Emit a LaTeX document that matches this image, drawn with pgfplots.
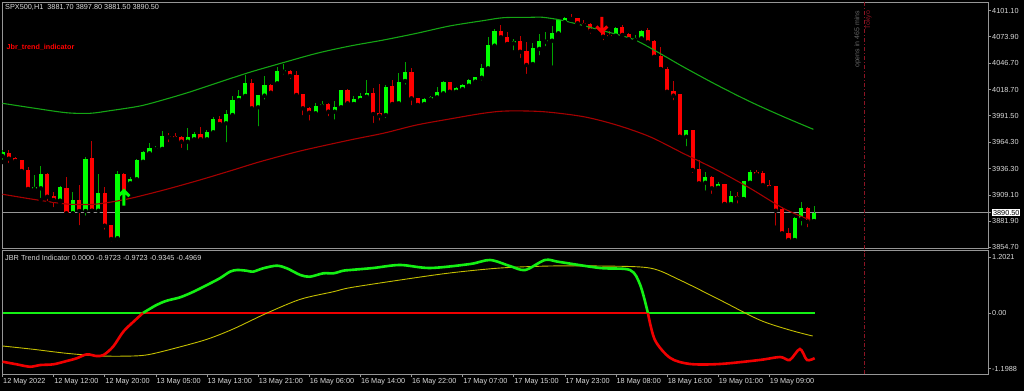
\documentclass[border=0pt]{standalone}
\usepackage{pgfplots}
\pgfplotsset{compat=1.18}
\usepackage{pgfplotstable}
\usepackage{fontspec}
\setmainfont{Liberation Sans}
\definecolor{bodyg}{RGB}{0,255,0}
\definecolor{wickg}{RGB}{0,165,0}
\definecolor{bodyr}{RGB}{255,0,0}
\definecolor{wickr}{RGB}{190,0,0}
\definecolor{bandg}{RGB}{20,165,20}
\definecolor{bandr}{RGB}{165,0,0}
\definecolor{indg}{RGB}{20,240,20}
\definecolor{indr}{RGB}{240,0,0}
\definecolor{sig}{RGB}{195,190,0}
\definecolor{framegray}{RGB}{150,150,150}
\definecolor{txt}{RGB}{220,220,220}
\definecolor{tokyo}{RGB}{140,20,35}
\newcommand\fs{\fontsize{7.3}{8.5}\selectfont}
\pgfdeclareplotmark{uparr}{%
 \pgfpathmoveto{\pgfqpoint{-5.5pt}{-5.5pt}}%
 \pgfpathlineto{\pgfqpoint{0pt}{0pt}}%
 \pgfpathlineto{\pgfqpoint{5.5pt}{-5.5pt}}%
 \pgfpathmoveto{\pgfqpoint{0pt}{-1pt}}%
 \pgfpathlineto{\pgfqpoint{0pt}{-15pt}}%
 \pgfusepathqstroke}
\pgfdeclareplotmark{dnarr}{%
 \pgfpathmoveto{\pgfqpoint{-5.5pt}{5.5pt}}%
 \pgfpathlineto{\pgfqpoint{0pt}{0pt}}%
 \pgfpathlineto{\pgfqpoint{5.5pt}{5.5pt}}%
 \pgfpathmoveto{\pgfqpoint{0pt}{1pt}}%
 \pgfpathlineto{\pgfqpoint{0pt}{15pt}}%
 \pgfusepathqstroke}

\pgfplotstableread{
i o h l c
0 3949.6 3955.8 3943.3 3953.8
5 3915.2 3929.8 3913.4 3917.0
6 3915.9 3939.2 3903.7 3930.8
9 3903.0 3918.6 3901.3 3917.0
11 3889.8 3911.7 3889.5 3903.7
13 3892.2 3948.9 3885.2 3946.5
15 3892.5 3930.8 3888.1 3910.7
18 3863.8 3933.6 3859.6 3930.8
20 3921.1 3928.0 3917.0 3925.6
21 3925.3 3946.5 3924.6 3945.4
22 3943.6 3955.1 3940.9 3953.4
23 3952.4 3962.8 3949.6 3957.6
24 3956.6 3960.0 3955.1 3958.2
25 3957.0 3975.7 3955.8 3970.4
29 3964.5 3978.5 3953.4 3969.1
30 3967.0 3974.3 3965.5 3972.5
32 3967.0 3976.7 3965.5 3974.9
33 3974.3 3990.6 3970.4 3988.2
35 3983.7 3997.6 3961.8 3993.4
36 3992.3 4012.2 3990.2 4008.0
37 4008.0 4018.4 4003.8 4012.2
38 4012.2 4034.1 4010.1 4025.7
40 4000.4 4013.2 3978.5 4013.2
41 4012.5 4033.0 4006.2 4023.6
43 4025.4 4042.7 4021.9 4038.2
44 4037.5 4045.2 4032.3 4039.3
49 3994.1 4004.5 3993.1 4002.0
50 4001.7 4007.3 3999.3 4003.5
52 3995.8 4007.3 3985.4 4000.4
53 4000.4 4018.4 3999.3 4018.4
55 4003.8 4012.2 4003.5 4009.0
56 4008.0 4014.9 4006.2 4012.5
57 4011.4 4028.8 4008.0 4014.9
60 3992.3 4023.6 3987.1 4021.2
62 4004.5 4035.8 4000.4 4027.1
63 4027.8 4047.3 4021.9 4036.9
66 4003.8 4009.7 4002.8 4009.0
67 4008.7 4012.2 4005.1 4011.4
68 4010.8 4021.2 4007.3 4016.0
69 4014.9 4028.1 4012.2 4027.1
71 4016.6 4021.2 4015.0 4020.2
72 4019.4 4024.7 4018.4 4023.6
73 4022.9 4029.9 4021.2 4028.8
74 4027.1 4032.3 4025.4 4031.7
75 4031.2 4045.2 4026.0 4041.0
76 4041.0 4073.4 4040.3 4065.3
77 4064.6 4081.7 4063.6 4079.9
80 4067.1 4071.3 4057.7 4069.5
83 4045.5 4067.7 4043.8 4062.5
84 4061.2 4076.8 4052.5 4069.8
85 4068.8 4078.6 4061.9 4070.6
86 4069.8 4085.2 4041.7 4078.2
87 4077.5 4092.4 4074.0 4091.4
88 4089.0 4094.8 4085.2 4093.8
93 4079.9 4083.8 4077.5 4082.0
96 4075.0 4084.4 4074.0 4083.4
99 4070.6 4075.8 4068.2 4072.9
100 4072.3 4081.0 4070.6 4080.3
107 3969.7 3976.7 3957.6 3976.7
110 3921.7 3932.6 3911.3 3928.0
112 3916.5 3922.2 3913.4 3920.1
114 3899.5 3913.1 3896.1 3907.9
116 3904.7 3923.5 3904.4 3923.5
117 3921.7 3935.0 3921.1 3932.6
124 3862.0 3886.3 3860.2 3885.3
125 3883.9 3901.3 3874.8 3895.0
127 3881.7 3897.8 3881.5 3890.5
}\greentab

\pgfplotstableread{
i o h l c
1 3953.0 3955.8 3940.2 3946.8
2 3947.8 3948.9 3940.9 3944.4
3 3945.4 3945.4 3932.2 3933.9
4 3935.0 3938.4 3914.1 3915.2
7 3930.8 3932.2 3900.3 3907.1
8 3907.6 3911.7 3894.0 3903.7
10 3916.5 3927.4 3887.0 3889.8
12 3903.7 3919.3 3875.2 3892.2
14 3947.2 3965.2 3892.3 3892.5
16 3910.7 3917.0 3870.6 3876.9
17 3877.6 3877.6 3858.5 3863.0
19 3930.8 3932.2 3903.7 3907.9
26 3970.4 3973.3 3961.8 3969.1
27 3970.4 3973.3 3965.2 3968.0
28 3969.1 3970.4 3955.8 3964.5
31 3972.5 3980.1 3965.2 3967.0
34 3988.2 3991.3 3981.2 3982.9
39 4026.0 4029.9 3997.6 3999.3
42 4023.6 4024.4 4013.2 4015.6
45 4038.2 4039.3 4027.8 4033.0
46 4034.0 4038.2 4011.4 4013.2
47 4013.9 4013.9 3989.9 3999.3
48 3999.9 4001.0 3984.3 3994.7
51 4003.8 4004.5 3988.9 3995.8
54 4018.4 4019.1 4002.8 4004.5
58 4014.9 4020.2 3981.9 3993.4
59 3994.1 4024.7 3984.3 3991.6
61 4022.6 4028.8 4001.0 4003.8
64 4036.9 4041.0 4000.4 4009.7
65 4009.7 4010.4 4002.0 4002.8
70 4027.1 4027.1 4015.6 4016.6
78 4079.9 4086.2 4072.3 4073.4
79 4073.4 4078.6 4066.1 4066.4
81 4069.8 4075.0 4049.7 4058.3
82 4059.1 4068.8 4033.0 4044.5
89 4093.8 4097.4 4091.4 4092.4
90 4093.2 4093.2 4087.2 4088.0
91 4088.6 4091.4 4084.4 4086.2
92 4086.9 4088.0 4075.0 4080.3
94 4079.9 4081.0 4068.2 4074.0
95 4075.8 4079.9 4073.4 4074.0
97 4084.4 4086.2 4075.0 4075.8
98 4076.8 4077.5 4068.2 4071.3
101 4081.0 4082.7 4067.1 4068.2
102 4069.5 4070.6 4052.5 4053.1
103 4053.9 4063.6 4040.0 4040.3
104 4040.3 4042.7 4014.2 4016.6
105 4017.7 4027.8 4005.6 4012.5
106 4014.2 4014.2 3969.1 3969.7
108 3976.7 3976.7 3929.8 3935.0
109 3936.0 3945.4 3920.4 3921.1
111 3928.0 3929.0 3907.9 3915.9
113 3920.4 3920.4 3899.3 3899.5
115 3907.9 3912.4 3897.8 3905.5
118 3933.2 3935.0 3928.7 3930.5
119 3932.2 3933.9 3915.2 3919.3
120 3919.3 3924.6 3914.9 3916.5
121 3918.6 3918.6 3874.8 3892.5
122 3894.0 3896.1 3868.3 3869.0
123 3869.6 3874.2 3858.5 3862.0
126 3895.0 3896.1 3873.1 3881.1
}\redtab

\pgfplotstableread{
i v
0 4004.5
4.8 3999.6
10 3994.7
13.7 3994.1
16.8 3996.8
21.5 4001.7
25.1 4008.0
29.3 4016.3
34 4026.7
38.7 4036.9
43.9 4046.9
49.2 4056.7
54.4 4064.3
59.6 4070.5
64.8 4077.5
70 4085.2
75.2 4090.7
78.4 4093.8
82.6 4094.2
84.6 4094.2
87.8 4090.7
93.5 4081.0
98.7 4071.3
102.4 4058.4
106.5 4042.7
111.8 4023.6
117 4006.2
122.2 3990.6
126.9 3977.4
}\upband

\pgfplotstableread{
i v
0 3909.7
4.8 3904.4
10 3899.5
14.2 3899.2
17.3 3901.9
20.5 3906.1
25.7 3914.9
30.9 3924.6
36.1 3935.0
40.3 3943.6
46.6 3954.8
54.4 3966.3
59.6 3973.3
64.8 3981.9
70 3988.2
75.2 3994.1
78.9 3996.5
84.6 3995.8
90.9 3990.6
96.1 3981.9
101.3 3969.7
106.5 3952.4
111.8 3935.0
117 3915.9
122.2 3895.0
126.4 3882.8
}\loband

\pgfplotstableread{
i v
0 -1.049
2.2 -1.105
4.3 -1.157
5.9 -1.120
7.95 -1.105
10.05 -1.034
11.6 -0.976
13.2 -0.890
14.7 -0.927
15.8 -0.905
17.3 -0.727
18.9 -0.404
20.5 -0.189
22.0 0
}\indredA

\pgfplotstableread{
i v
22.0 0
24.1 0.170
25.7 0.262
27.8 0.335
29.9 0.456
32.0 0.600
34.0 0.744
35.6 0.886
36.7 0.922
38.2 0.907
39.2 0.886
40.8 0.959
42.9 1.015
44.5 0.959
46.6 0.815
48.1 0.778
50.2 0.851
51.8 0.851
53.3 0.907
54.4 0.922
58 0.965
62.2 1.030
66.9 0.965
73.2 1.051
76.3 1.137
79.4 1.008
81.8 0.922
84.9 1.137
87.2 1.094
93.5 0.965
98.2 0.922
99.8 0.600
101 0
}\indgreen

\pgfplotstableread{
i v
101 0
102.1 -0.582
104.5 -0.969
107.6 -1.098
112.3 -1.098
118.5 -1.012
121.7 -0.948
123.2 -1.012
124.8 -0.776
125.9 -1.012
127.1 -0.972
}\indredB

\pgfplotstableread{
i v
0 -0.711
4.8 -0.782
10 -0.868
15.3 -0.926
20.5 -0.926
23.1 -0.890
27.3 -0.748
32 -0.567
36.1 -0.346
41.3 -0.009
46.6 0.292
51.8 0.456
54.4 0.542
62.2 0.707
70 0.858
77.9 0.965
85.7 1.008
93.5 1.008
101.3 0.965
106 0.707
112.3 0.277
118.5 -0.153
123.2 -0.368
126.8 -0.497
}\signal

\begin{document}
\begin{tikzpicture}
\useasboundingbox (0pt,0pt) rectangle (1024pt,-391pt);
\fill[black] (0pt,0pt) rectangle (1024pt,-391pt);
\pgfplotsset{
  mt/.style={
    scale only axis, anchor=north west,
    axis background/.style={fill=black},
    axis line style={draw=framegray, line width=0.8pt},
    tick style={draw=framegray, line width=0.6pt},
    tick align=outside, major tick length=3pt,
    ytick pos=right, yticklabel pos=right,
    yticklabel style={font=\fs, text=txt, inner sep=0pt, xshift=1pt},
    xmin=-0.08, xmax=154.23,
  }
}
% ---------------- main price pane ----------------
\begin{axis}[mt, at={(2pt,-2pt)}, width=986pt, height=246.5pt,
  ymin=3853.1, ymax=4110.17,
  xtick=\empty,
  ytick={4101.1,4073.9,4046.7,4018.7,3991.5,3964.3,3936.3,3909.1,3881.9,3854.7},
  yticklabels={4101.10,4073.90,4046.70,4018.70,3991.50,3964.30,3936.30,3909.10,3881.90,3854.70},
  extra y ticks={3890.5}, extra y tick labels={3890.50},
  extra y tick style={grid=major, major grid style={draw=framegray, line width=0.7pt},
    yticklabel style={fill=white, text=black, inner sep=0.9pt, xshift=0pt}},
]
% wicks
\addplot[only marks, mark=none, forget plot, error bars/.cd, y dir=plus, y explicit,
  error mark=none, error bar style={line width=1pt, draw=wickg}]
  table[x=i, y=l, y error expr=\thisrow{h}-\thisrow{l}] {\greentab};
\addplot[only marks, mark=none, forget plot, error bars/.cd, y dir=plus, y explicit,
  error mark=none, error bar style={line width=1pt, draw=wickr}]
  table[x=i, y=l, y error expr=\thisrow{h}-\thisrow{l}] {\redtab};
% bodies
\addplot[only marks, mark=none, forget plot, error bars/.cd, y dir=plus, y explicit,
  error mark=none, error bar style={line width=4.2pt, draw=bodyg}]
  table[x=i, y=o, y error expr=\thisrow{c}-\thisrow{o}] {\greentab};
\addplot[only marks, mark=none, forget plot, error bars/.cd, y dir=plus, y explicit,
  error mark=none, error bar style={line width=4.2pt, draw=bodyr}]
  table[x=i, y=c, y error expr=\thisrow{o}-\thisrow{c}] {\redtab};
% bands
\addplot[bandg, line width=1.1pt, smooth] table[x=i, y=v] {\upband};
\addplot[bandr, line width=1.1pt, smooth] table[x=i, y=v] {\loband};
% signal arrows
\addplot[only marks, mark=uparr, mark options={draw=bodyg, line width=3pt}] coordinates {(19,3913.4)};
\addplot[only marks, mark=dnarr, mark options={draw=bodyr, line width=3pt}] coordinates {(93.8,4078.9)};
% Tokyo session line
\addplot[tokyo, line width=0.8pt, dash pattern=on 4pt off 2pt on 1pt off 2pt] coordinates {(134.9,3853.1) (134.9,4110.17)};
\node[rotate=90, anchor=east, inner sep=0pt, text=gray!80!black, font=\fontsize{7}{8}\selectfont] at (axis cs:133.8,4101) {opens in 465 mins};
\node[rotate=90, anchor=east, inner sep=0pt, text=tokyo, font=\fontsize{7}{8}\selectfont] at (axis cs:135.5,4101) {Tokyo};
\end{axis}
\node[anchor=west, inner sep=0pt, text=txt, font=\fs] at (5pt,-7.5pt) {SPX500,H1\ \ 3881.70 3897.80 3881.50 3890.50};
\node[anchor=west, inner sep=0pt, text=red, font=\bfseries\fontsize{7.2}{8}\selectfont] at (6.5pt,-47pt) {Jbr\_trend\_indicator};
% ---------------- indicator pane ----------------
\begin{axis}[mt, at={(2pt,-250.5pt)}, width=986pt, height=123.5pt,
  ymin=-1.3133, ymax=1.3412,
  ytick={1.2021,0,-1.1988}, yticklabels={1.2021,0.00,-1.1988},
  xtick={0,8,...,120}, xtick pos=bottom,
  xticklabels={12 May 2022,12 May 12:00,12 May 20:00,13 May 05:00,13 May 13:00,13 May 21:00,16 May 06:00,16 May 14:00,16 May 22:00,17 May 07:00,17 May 15:00,17 May 23:00,18 May 08:00,18 May 16:00,19 May 01:00,19 May 09:00},
  xticklabel style={font=\fs, text=txt, anchor=north west, inner sep=0pt, xshift=0.5pt, yshift=-1.5pt},
]
\addplot[indg, line width=2.6pt] coordinates {(0,0) (22,0)};
\addplot[indr, line width=2.6pt] coordinates {(22,0) (101,0)};
\addplot[indg, line width=2.6pt] coordinates {(101,0) (127.1,0)};
\addplot[sig, line width=0.9pt, smooth] table[x=i, y=v] {\signal};
\addplot[indr, line width=2.6pt, smooth] table[x=i, y=v] {\indredA};
\addplot[indg, line width=2.6pt, smooth] table[x=i, y=v] {\indgreen};
\addplot[indr, line width=2.6pt, smooth] table[x=i, y=v] {\indredB};
\addplot[tokyo, line width=0.8pt, dash pattern=on 4pt off 2pt on 1pt off 2pt] coordinates {(134.9,-1.3133) (134.9,1.3412)};
\end{axis}
\node[anchor=west, inner sep=0pt, text=txt, font=\fs] at (5pt,-258pt) {JBR Trend Indicator 0.0000 -0.9723 -0.9723 -0.9345 -0.4969};
\end{tikzpicture}
\end{document}
